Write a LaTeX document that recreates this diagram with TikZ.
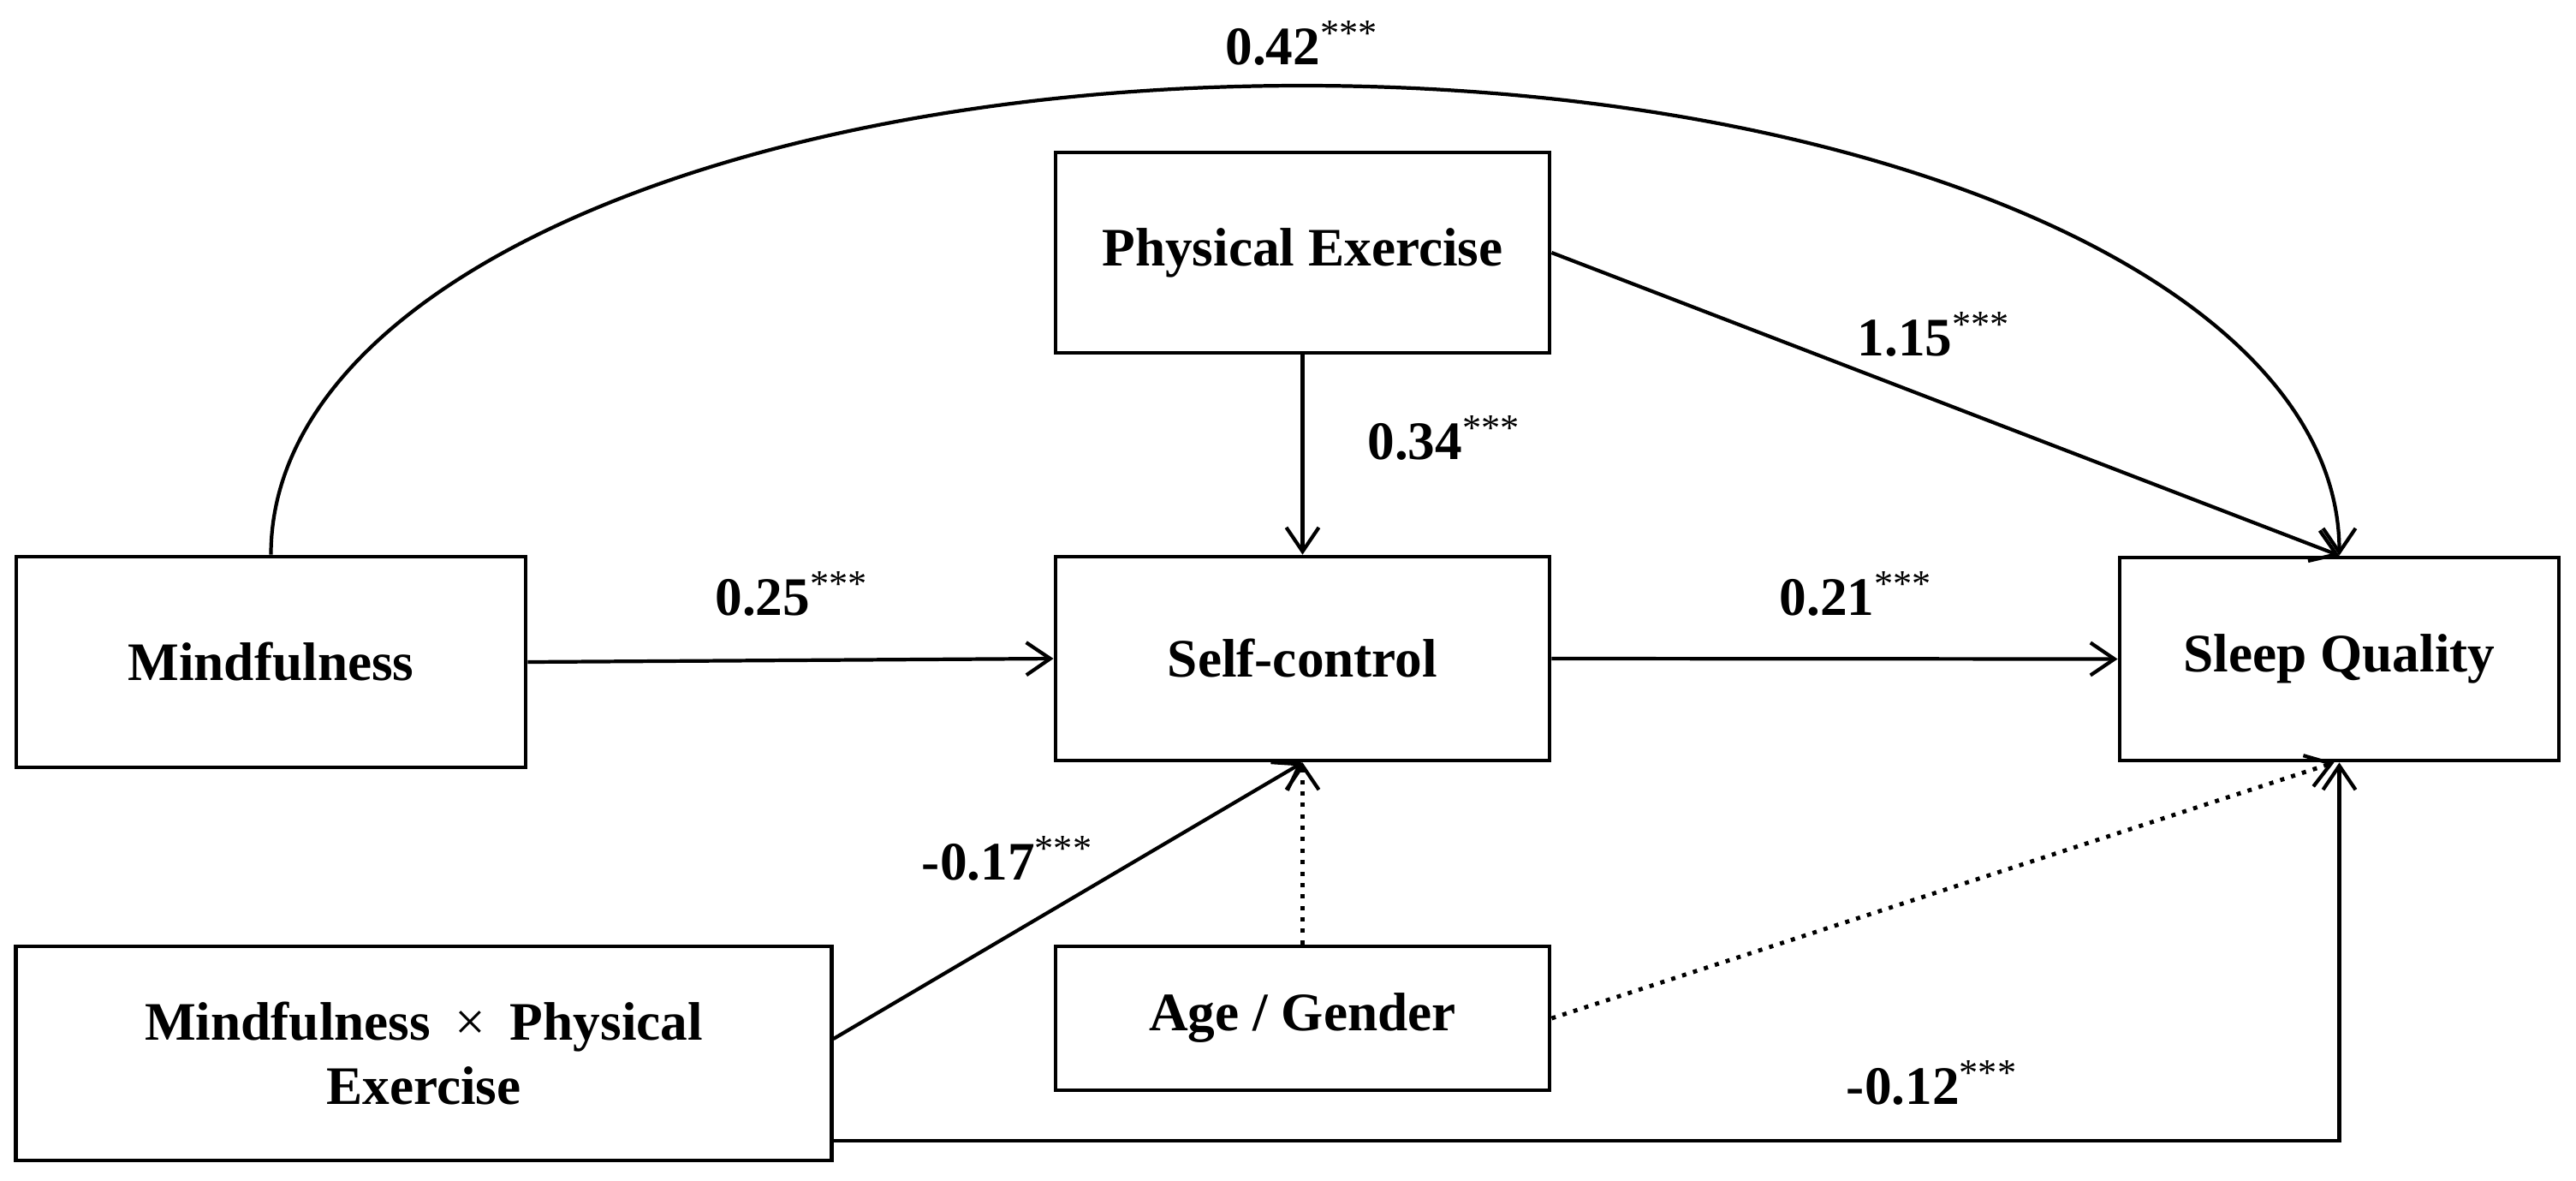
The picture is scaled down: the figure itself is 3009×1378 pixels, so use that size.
\documentclass[tikz,border=0pt]{standalone}
\usepackage{fontspec}
\setmainfont{Liberation Serif}
\usetikzlibrary{arrows.meta,calc}
\newcommand\pval[1]{#1\textsuperscript{\mdseries ***}}
\begin{document}
\begin{tikzpicture}[x=0.01cm,y=-0.01cm,
 box/.style={draw,line width=1.3pt,inner sep=0pt,align=center,font=\bfseries\fontsize{18}{21.5}\selectfont},
 lab/.style={inner sep=0pt,font=\bfseries\fontsize{18}{21.5}\selectfont},
 conn/.style={line width=1.2pt,-{Straight Barb[length=2.8mm,width=3.8mm,line width=1.2pt]}},
 dotconn/.style={conn,line width=1.4pt,dash pattern=on 1.4pt off 2.4pt}]
\useasboundingbox (0,0) rectangle (3009,1378);
% boxes
\node[box,minimum width=5.95cm,minimum height=2.46cm] (MF) at (316.5,773) {Mindfulness};
\node[box,minimum width=9.52cm,minimum height=2.50cm] (INT) at (495,1230) {Mindfulness\hspace{0.45em}{\mdseries ×}\hspace{0.45em}Physical\\Exercise};
\node[box,minimum width=5.77cm,minimum height=2.34cm] (PE) at (1521.5,295) {Physical Exercise};
\node[box,minimum width=5.77cm,minimum height=2.38cm] (SC) at (1521.5,769) {Self-control};
\node[box,minimum width=5.77cm,minimum height=1.68cm] (AG) at (1521.5,1189) {Age / Gender};
\node[box,minimum width=5.13cm,minimum height=2.37cm] (SQ) at (2732.5,769.5) {Sleep Quality};
% connectors
\coordinate (top) at (1521,100);
\draw[conn] (MF.north) .. controls +(0,-320) and +(-660,0) .. (top)
  .. controls +(660,0) and +(0,-320) .. (SQ.north);
\draw[conn] (PE.east) -- (SQ.north);
\draw[conn] (PE.south) -- (SC.north);
\draw[conn] (MF.east) -- (SC.west);
\draw[conn] (SC.east) -- (SQ.west);
\draw[conn] ([yshift=0.17cm]INT.east) -- (SC.south);
\draw[dotconn] (AG.north) -- (SC.south);
\draw[dotconn] (AG.east) -- ([xshift=-0.06cm]SQ.south);
\draw[conn] ([yshift=0.25cm]INT.south east) -| (SQ.south);
% labels
\node[lab] (L42) at (1521,50) {\pval{0.42}};
\node[lab] (L34) at (1687,511) {\pval{0.34}};
\node[lab] (L15) at (2259,390) {\pval{1.15}};
\node[lab] (L25) at (925,693) {\pval{0.25}};
\node[lab] (L21) at (2168,693) {\pval{0.21}};
\node[lab] (L17) at (1177,1002) {\pval{-0.17}};
\node[lab] (L12) at (2257,1264) {\pval{-0.12}};
\end{tikzpicture}
\end{document}
